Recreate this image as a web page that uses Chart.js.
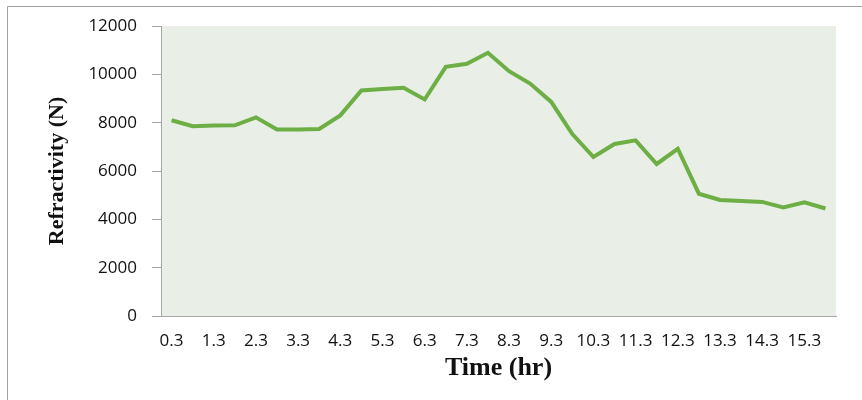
<!DOCTYPE html>
<html>
<head>
<meta charset="utf-8">
<script src="https://cdn.jsdelivr.net/npm/chart.js@4/dist/chart.umd.min.js"></script>
<style>
html,body{margin:0;padding:0;background:#fff;}
canvas{display:block;}
</style>
</head>
<body>
<canvas id="c" width="862" height="400"></canvas>
<script>
const times = ['0.3','0.8','1.3','1.8','2.3','2.8','3.3','3.8','4.3','4.8','5.3','5.8','6.3','6.8','7.3','7.8',
               '8.3','8.8','9.3','9.8','10.3','10.8','11.3','11.8','12.3','12.8','13.3','13.8','14.3','14.8','15.3','15.8'];
const refractivity = [8100,7850,7880,7890,8220,7715,7715,7740,8300,9330,9390,9440,8960,10310,10440,10890,
                      10130,9620,8860,7530,6580,7120,7270,6290,6920,5060,4800,4760,4720,4490,4700,4450];
const yTicks = [0,2000,4000,6000,8000,10000,12000];

const bgPlugin = {
  id: 'bg',
  beforeDraw(chart) {
    const {ctx, chartArea: a} = chart;
    ctx.save();
    ctx.fillStyle = '#E9EFE7';
    ctx.fillRect(a.left, a.top, a.right - a.left, a.bottom - a.top);
    ctx.strokeStyle = '#A0A0A0';
    ctx.lineWidth = 1;
    ctx.beginPath();
    ctx.moveTo(7.5, 400);
    ctx.lineTo(7.5, 6.5);
    ctx.lineTo(862, 6.5);
    ctx.stroke();
    ctx.restore();
  }
};

new Chart(document.getElementById('c'), {
  type: 'line',
  data: {
    labels: times,
    datasets: [{
      data: refractivity,
      borderColor: '#6DAE45',
      borderWidth: 4,
      pointRadius: 0,
      tension: 0,
      fill: false
    }]
  },
  options: {
    responsive: false,
    animation: false,
    layout: { padding: { left: 0, top: 26, right: 26, bottom: 0 } },
    plugins: { legend: { display: false }, tooltip: { enabled: false } },
    scales: {
      x: {
        offset: true,
        grid: { display: true, drawOnChartArea: false, drawTicks: false, color: '#A6A6A6' },
        border: { display: true, color: '#A6A6A6', width: 1 },
        ticks: {
          autoSkip: false, maxRotation: 0, minRotation: 0, padding: 15,
          color: '#111', font: { family: 'Open Sans', size: 17 },
          callback: function(v, i) { return i % 2 === 0 ? times[i] : ''; }
        },
        title: {
          display: true, text: 'Time (hr)', color: '#111',
          font: { family: 'Liberation Serif', size: 26, weight: 'bold' },
          padding: { top: 0, bottom: 16 }
        },
        afterFit(scale) { scale.height = 84; }
      },
      y: {
        min: 0, max: 12000,
        afterBuildTicks(scale) { scale.ticks = yTicks.map(v => ({ value: v })); },
        grid: { display: true, drawOnChartArea: false, drawTicks: true, tickLength: 9, color: '#A6A6A6' },
        border: { display: true, color: '#A6A6A6', width: 1 },
        ticks: {
          padding: 15, color: '#111', font: { family: 'Open Sans', size: 17 },
          callback: function(v) { return String(v); }
        },
        title: {
          display: true, text: 'Refractivity (N)', color: '#111',
          font: { family: 'Liberation Serif', size: 22, weight: 'bold' },
          padding: { top: 44, bottom: 0 }
        },
        afterFit(scale) { scale.width = 161; }
      }
    }
  },
  plugins: [bgPlugin]
});
</script>
</body>
</html>
